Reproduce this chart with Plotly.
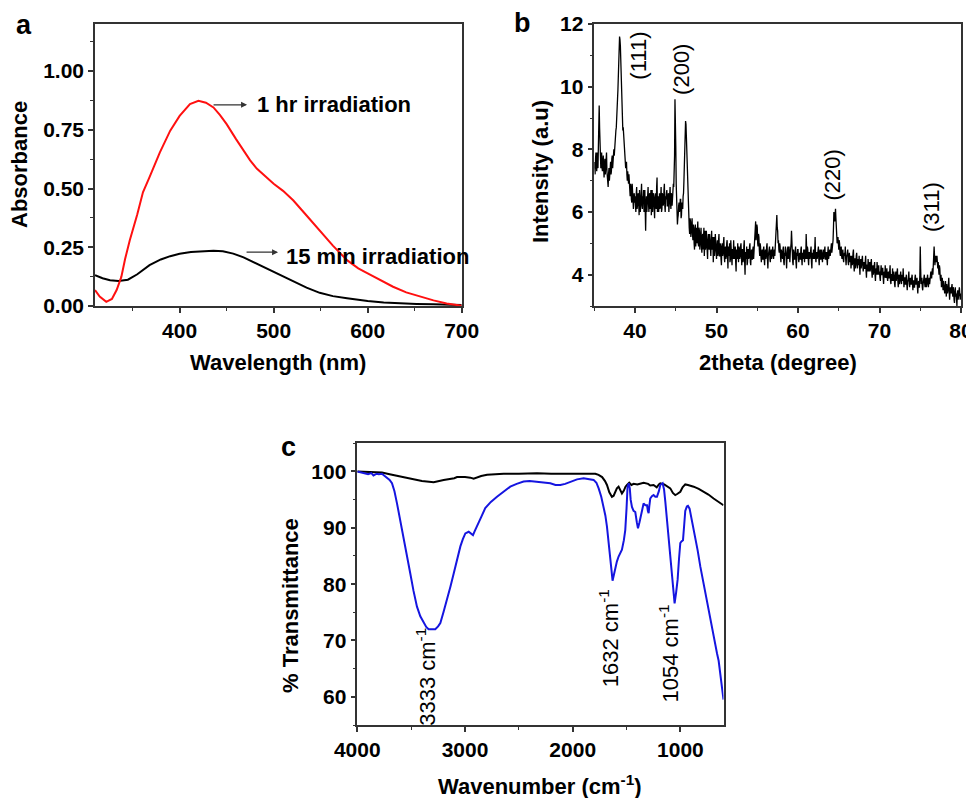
import plotly.graph_objects as go

# ---------------- Panel a: UV-Vis ----------------
uv_1hr_wl = [310, 315, 322, 328, 333, 338, 342, 347, 355, 361, 368, 379, 390, 400, 411, 420, 428, 436,
             443, 450, 460, 468, 475, 482, 490, 500, 510, 521, 535, 549, 563, 578, 590, 600, 614, 627,
             641, 656, 670, 684, 692, 700]
uv_1hr_abs = [0.068, 0.040, 0.018, 0.030, 0.068, 0.124, 0.20, 0.28, 0.39, 0.484, 0.548, 0.654, 0.746,
              0.809, 0.859, 0.873, 0.865, 0.845, 0.812, 0.774, 0.71, 0.661, 0.62, 0.585, 0.555, 0.52,
              0.49, 0.449, 0.385, 0.322, 0.257, 0.195, 0.160, 0.139, 0.108, 0.082, 0.058, 0.039, 0.024,
              0.011, 0.005, 0.001]
uv_15min_wl = [310, 318, 326, 335, 345, 355, 368, 380, 390, 400, 412, 424, 436, 446, 457, 468, 478, 490,
               500, 510, 521, 535, 549, 563, 578, 590, 600, 617, 635, 652, 670, 685, 700]
uv_15min_abs = [0.131, 0.118, 0.110, 0.106, 0.112, 0.135, 0.174, 0.198, 0.212, 0.222, 0.230, 0.234,
                0.235, 0.233, 0.223, 0.207, 0.188, 0.163, 0.145, 0.124, 0.103, 0.078, 0.056, 0.042,
                0.033, 0.025, 0.021, 0.015, 0.011, 0.009, 0.007, 0.005, 0.004]

# ---------------- Panel b: XRD ----------------
# readings at 35.0, 35.1, ... 80.0
xrd_start, xrd_step = 35.0, 0.1
xrd_intensity = [
    7.6, 7.2, 7.9, 7.3, 7.8, 8.3, 9.4, 8.0, 7.4, 7.9,
    7.3, 7.8, 7.1, 7.7, 7.4, 7.9, 7.0, 6.8, 7.4, 7.2,
    7.6, 7.3, 7.8, 7.6, 8.0, 8.1, 8.4, 8.7, 9.3, 9.9,
    10.8, 11.6, 11.3, 10.2, 9.1, 8.6, 8.4, 8.0, 7.7, 7.5,
    7.2, 7.3, 6.9, 7.0, 6.5, 6.8, 6.3, 6.7, 6.1, 6.6,
    6.5, 6.0, 6.8, 6.2, 6.6, 5.9, 6.5, 6.3, 6.9, 6.1,
    6.4, 6.0, 6.7, 5.4, 6.5, 6.2, 6.8, 6.0, 6.6, 6.3,
    5.9, 6.7, 6.2, 6.5, 5.8, 6.6, 6.1, 7.1, 6.3, 6.0,
    6.6, 6.2, 6.8, 6.1, 6.5, 6.3, 6.9, 6.0, 6.4, 6.7,
    6.2, 6.6, 6.3, 6.8, 6.1, 6.5, 6.7, 6.9, 7.1, 9.6,
    8.1, 6.2, 5.6, 5.9, 6.3, 6.1, 6.4, 5.9, 6.2, 6.5,
    7.0, 8.2, 8.9, 8.4, 7.3, 6.3, 5.9, 5.3, 5.7, 5.4,
    5.8, 5.1, 5.5, 4.8, 5.6, 5.2, 5.0, 5.7, 4.9, 5.4,
    5.0, 5.5, 4.7, 5.3, 5.1, 4.6, 5.4, 4.9, 5.2, 4.5,
    5.3, 4.8, 5.1, 4.6, 5.4, 4.9, 4.4, 5.2, 4.8, 5.0,
    4.5, 5.1, 4.7, 5.3, 4.6, 4.9, 4.3, 5.0, 4.7, 5.2,
    4.4, 4.9, 4.6, 5.1, 4.2, 4.8, 5.0, 4.5, 4.9, 4.3,
    4.8, 5.1, 4.5, 4.9, 4.1, 4.7, 5.0, 4.4, 4.8, 4.6,
    5.0, 4.3, 4.8, 4.5, 5.1, 4.0, 4.7, 4.9, 4.4, 4.8,
    4.6, 5.0, 4.3, 4.8, 4.5, 4.9, 4.7, 5.2, 5.7, 5.3,
    5.5, 4.9, 5.2, 4.6, 4.9, 4.4, 4.8, 4.5, 4.9, 4.3,
    4.8, 4.6, 5.0, 4.2, 4.7, 4.9, 4.4, 4.8, 4.6, 4.9,
    4.5, 4.8, 5.0, 5.3, 5.9, 5.4, 5.1, 4.7, 4.9, 4.4,
    4.7, 4.5, 4.9, 4.3, 4.6, 4.8, 4.2, 4.7, 4.5, 4.9,
    4.4, 4.8, 5.4, 4.6, 4.3, 4.7, 4.5, 4.9, 4.2, 4.6,
    4.8, 4.4, 4.7, 4.5, 4.9, 4.3, 4.6, 4.8, 4.4, 4.7,
    5.3, 4.5, 4.8, 4.3, 4.7, 4.6, 4.9, 4.2, 4.6, 4.8,
    4.5, 5.2, 4.4, 4.7, 4.6, 4.9, 4.3, 4.8, 4.5, 4.7,
    4.4, 4.8, 4.6, 4.9, 4.5, 4.7, 4.3, 4.9, 4.6, 4.8,
    4.7, 5.0, 4.8, 5.1, 6.0, 5.7, 6.1, 5.6, 5.0, 5.2,
    4.8, 5.0, 4.6, 4.9, 4.5, 4.8, 4.4, 4.7, 4.9, 4.3,
    4.6, 4.8, 4.3, 4.7, 4.5, 4.2, 4.6, 4.4, 4.8, 4.1,
    4.5, 4.3, 4.7, 4.2, 4.4, 4.6, 4.0, 4.5, 4.3, 4.6,
    4.1, 4.4, 4.2, 4.6, 3.9, 4.3, 4.5, 4.1, 4.4, 4.2,
    4.5, 3.9, 4.3, 4.1, 4.4, 3.8, 4.2, 4.4, 4.0, 4.3,
    4.1, 3.8, 4.3, 4.0, 4.2, 3.7, 4.1, 4.3, 3.9, 4.2,
    3.8, 4.1, 3.9, 4.3, 3.7, 4.0, 4.2, 3.8, 4.0, 3.6,
    4.1, 3.9, 4.2, 3.6, 4.0, 3.8, 4.1, 3.7, 3.9, 4.2,
    3.6, 3.9, 3.7, 4.0, 3.5, 3.8, 4.1, 3.6, 3.9, 3.7,
    4.0, 3.5, 3.8, 3.6, 4.0, 3.7, 3.9, 3.4, 3.8, 3.6,
    4.9, 3.7, 3.9, 3.5, 3.8, 4.0, 3.6, 3.9, 3.7, 4.0,
    3.6, 3.9, 3.8, 4.1, 3.9, 4.2, 4.4, 4.9, 4.3, 4.6,
    4.5, 4.3, 4.4, 4.0, 4.2, 3.8, 3.6, 3.9, 3.5, 3.7,
    3.4, 3.8, 3.3, 3.6, 3.5, 3.9, 3.2, 3.6, 3.4, 3.7,
    3.3, 3.5, 3.1, 3.6, 3.4, 3.0, 3.5, 3.3, 3.6, 3.2,
    3.4,
]
# readings at the half steps 35.05, 35.15, ... 79.95
xrd_intensity_mid = [
    7.3, 7.7, 7.5, 7.9, 7.4, 8.8, 8.7, 7.6, 7.8, 7.4,
    7.6, 7.4, 7.5, 7.2, 7.6, 7.3, 6.9, 7.2, 7.0, 7.5,
    7.2, 7.7, 7.4, 7.9, 7.8, 8.2, 8.6, 8.9, 9.6, 10.3,
    11.2, 11.5, 10.7, 9.6, 8.7, 8.7, 8.1, 7.8, 7.4, 7.6,
    7.0, 6.9, 7.2, 6.6, 6.9, 6.4, 6.9, 6.2, 6.5, 6.3,
    6.2, 6.6, 6.1, 6.5, 6.3, 6.7, 6.0, 6.6, 6.2, 6.5,
    6.7, 6.3, 5.9, 6.2, 6.0, 6.6, 6.3, 6.5, 6.1, 6.7,
    6.4, 6.0, 6.6, 6.1, 6.4, 6.2, 6.8, 6.0, 6.5, 6.3,
    6.1, 6.5, 6.0, 6.6, 6.2, 6.7, 6.2, 6.5, 6.6, 6.2,
    6.5, 6.0, 6.6, 6.3, 6.6, 6.2, 6.5, 6.8, 7.8, 9.2,
    6.9, 5.9, 5.8, 6.2, 6.0, 6.4, 5.8, 6.3, 6.1, 6.6,
    7.5, 8.7, 8.8, 7.9, 6.8, 6.0, 5.5, 5.8, 5.2, 5.6,
    5.3, 5.6, 5.0, 5.4, 4.9, 5.5, 5.3, 5.0, 5.5, 4.8,
    5.3, 4.9, 5.2, 4.8, 5.5, 5.0, 4.8, 5.4, 4.7, 5.1,
    4.9, 5.3, 4.7, 5.1, 4.8, 5.2, 4.9, 4.6, 5.3, 4.7,
    4.9, 4.6, 5.1, 4.6, 5.0, 4.5, 4.9, 4.6, 5.0, 4.6,
    4.8, 4.5, 5.0, 4.6, 4.9, 4.6, 4.4, 5.1, 4.5, 4.8,
    4.5, 4.7, 4.9, 4.4, 4.8, 4.5, 4.6, 4.9, 4.5, 4.9,
    4.6, 4.8, 4.4, 4.9, 4.4, 4.7, 4.5, 4.3, 4.8, 4.5,
    4.9, 4.4, 4.7, 4.5, 4.8, 4.5, 5.0, 5.4, 5.1, 5.6,
    5.0, 5.3, 4.8, 5.0, 4.6, 4.7, 4.5, 4.8, 4.5, 4.7,
    4.5, 4.9, 4.5, 4.6, 4.9, 4.5, 4.7, 4.5, 4.8, 4.6,
    4.7, 4.6, 5.2, 5.6, 5.5, 5.0, 4.8, 5.0, 4.6, 4.8,
    4.5, 4.8, 4.4, 4.7, 4.9, 4.5, 4.6, 4.9, 4.6, 4.4,
    4.7, 5.0, 4.8, 4.4, 4.8, 4.5, 4.7, 4.4, 4.7, 4.8,
    4.5, 4.6, 4.5, 4.8, 4.5, 4.7, 4.5, 4.6, 4.8, 4.5,
    4.7, 4.9, 4.5, 4.7, 4.5, 4.8, 4.4, 4.7, 4.5, 4.6,
    4.8, 4.6, 4.7, 4.5, 4.8, 4.5, 4.7, 4.5, 4.8, 4.5,
    4.7, 4.5, 4.8, 4.5, 4.7, 4.5, 4.7, 4.5, 4.8, 4.6,
    4.9, 4.7, 5.0, 5.5, 5.8, 5.9, 5.8, 5.2, 5.1, 4.9,
    5.1, 4.7, 4.8, 4.6, 4.7, 4.5, 4.6, 4.6, 4.5, 4.6,
    4.7, 4.4, 4.6, 4.4, 4.6, 4.5, 4.3, 4.7, 4.3, 4.5,
    4.2, 4.6, 4.4, 4.5, 4.3, 4.2, 4.4, 4.2, 4.5, 4.3,
    4.3, 4.2, 4.4, 4.1, 4.3, 4.1, 4.3, 4.2, 4.1, 4.4,
    4.1, 4.2, 4.0, 4.3, 4.0, 4.1, 4.0, 4.2, 4.2, 4.0,
    3.9, 4.1, 4.0, 4.2, 3.9, 4.0, 3.9, 4.0, 4.1, 3.9,
    4.0, 3.9, 4.1, 3.8, 4.0, 3.8, 3.9, 4.1, 3.7, 3.9,
    3.8, 4.0, 3.8, 3.9, 3.7, 4.0, 3.8, 4.0, 3.8, 3.8,
    3.9, 3.7, 3.9, 3.7, 3.8, 3.9, 3.7, 3.8, 3.7, 3.9,
    3.7, 3.8, 3.6, 3.9, 3.7, 3.8, 3.6, 3.7, 3.6, 4.0,
    4.2, 3.8, 3.6, 3.7, 3.9, 3.7, 3.8, 3.6, 3.9, 3.7,
    3.8, 3.7, 4.0, 3.9, 4.1, 4.0, 4.6, 4.6, 4.5, 4.4,
    4.6, 4.2, 4.1, 4.3, 3.9, 4.0, 3.8, 3.7, 3.8, 3.5,
    3.6, 3.5, 3.7, 3.4, 3.7, 3.5, 3.4, 3.5, 3.6, 3.4,
    3.6, 3.2, 3.4, 3.3, 3.2, 3.4, 3.2, 3.5, 3.4, 3.3,
]
xrd_2theta, xrd_values = [], []
for i, v in enumerate(xrd_intensity):
    xrd_2theta.append(round(xrd_start + i * xrd_step, 2))
    xrd_values.append(v)
    if i < len(xrd_intensity_mid):
        xrd_2theta.append(round(xrd_start + (i + 0.5) * xrd_step, 2))
        xrd_values.append(xrd_intensity_mid[i])

xrd_labels = ["(111)", "(200)", "(220)", "(311)"]
xrd_label_x = [40.4, 45.7, 64.2, 76.4]
xrd_label_y = [11.0, 10.55, 7.17, 6.15]

# ---------------- Panel c: FTIR ----------------
ftir_blue_wn = [4000, 3950, 3900, 3870, 3850, 3820, 3800, 3771, 3750, 3724, 3700, 3678, 3655, 3631, 3600,
                3570, 3540, 3508, 3478, 3446, 3415, 3384, 3360, 3338, 3310, 3276, 3250, 3229, 3200, 3167,
                3135, 3105, 3075, 3043, 3020, 2997, 2966, 2945, 2926, 2910, 2889, 2850, 2812, 2760, 2703,
                2640, 2580, 2520, 2456, 2400, 2332, 2270, 2208, 2160, 2115, 2070, 2022, 1960, 1899, 1850,
                1806, 1780, 1759, 1735, 1713, 1697, 1682, 1665, 1651, 1640, 1630, 1618, 1605, 1590, 1574,
                1560, 1543, 1525, 1512, 1500, 1491, 1480, 1470, 1462, 1450, 1435, 1419, 1405, 1394, 1380,
                1366, 1354, 1342, 1325, 1310, 1302, 1295, 1288, 1280, 1265, 1249, 1233, 1218, 1200, 1187,
                1165, 1152, 1140, 1125, 1109, 1094, 1078, 1066, 1054, 1040, 1026, 1013, 1001, 990, 976,
                965, 955, 940, 930, 915, 900, 870, 840, 815, 790, 765, 745, 722, 700, 680, 660, 645, 625,
                610, 600]
ftir_blue_t = [100.0, 99.8, 99.5, 99.7, 99.3, 99.6, 99.5, 99.6, 99.3, 98.8, 98.5, 97.9, 96.5, 94.3, 91.3,
               88.4, 85.1, 81.9, 78.8, 76.0, 74.3, 73.1, 72.4, 72.0, 72.0, 72.0, 72.5, 73.1, 75.0, 77.2,
               79.6, 81.9, 84.3, 86.7, 88.0, 89.0, 89.3, 89.0, 88.7, 89.4, 90.2, 91.9, 93.5, 94.6, 95.5,
               96.5, 97.3, 97.8, 98.2, 98.3, 98.2, 98.1, 97.9, 97.6, 97.6, 97.8, 98.2, 98.6, 98.8, 98.7,
               98.5, 98.0, 97.0, 95.5, 93.7, 92.2, 90.2, 87.5, 84.9, 82.5, 80.6, 81.8, 82.8, 84.0, 84.9,
               85.5, 86.1, 87.8, 89.6, 93.5, 97.2, 97.9, 97.0, 95.0, 93.7, 93.0, 92.8, 91.0, 89.9, 91.0,
               92.3, 93.5, 94.3, 94.0, 94.0, 93.0, 92.6, 94.0, 95.2, 95.6, 95.8, 95.5, 95.5, 96.5, 97.6,
               97.9, 96.8, 94.6, 91.5, 87.8, 84.2, 80.8, 78.2, 76.6, 78.5, 80.8, 84.5, 87.3, 87.6, 87.8,
               90.5, 93.0, 93.8, 93.9, 93.4, 92.0, 89.0, 86.0, 83.1, 80.5, 78.0, 76.0, 73.7, 71.5, 69.5,
               67.7, 66.4, 63.5, 61.2, 59.5]
ftir_black_wn = [4000, 3900, 3800, 3771, 3700, 3600, 3500, 3400, 3291, 3250, 3198, 3100, 3074, 3000, 2950,
                 2920, 2890, 2850, 2795, 2700, 2641, 2500, 2332, 2200, 2022, 1900, 1790, 1760, 1727, 1700,
                 1682, 1660, 1636, 1620, 1605, 1590, 1574, 1560, 1543, 1525, 1510, 1496, 1475, 1455, 1434,
                 1400, 1370, 1342, 1300, 1280, 1249, 1220, 1200, 1187, 1150, 1120, 1094, 1070, 1048, 1030,
                 1001, 980, 955, 930, 900, 877, 830, 785, 740, 692, 650, 600]
ftir_black_t = [100.0, 99.9, 99.8, 99.8, 99.5, 99.1, 98.7, 98.3, 98.1, 98.3, 98.5, 98.8, 99.0, 99.0, 98.9,
                98.7, 98.9, 99.2, 99.4, 99.5, 99.6, 99.6, 99.7, 99.6, 99.6, 99.6, 99.6, 99.4, 99.0, 98.3,
                97.6, 96.3, 95.5, 95.7, 96.4, 97.0, 97.3, 96.7, 96.1, 96.6, 97.3, 97.6, 98.0, 97.6, 97.8,
                97.7, 97.9, 98.0, 97.8, 97.5, 97.6, 97.2, 97.7, 97.9, 97.7, 97.3, 97.0, 96.2, 95.8, 96.0,
                96.4, 97.2, 97.7, 97.6, 97.5, 97.3, 96.9, 96.4, 95.9, 95.2, 94.7, 94.0]
ftir_labels = ["3333 cm<sup>-1</sup>", "1632 cm<sup>-1</sup>", "1054 cm<sup>-1</sup>"]
ftir_label_x = [3365, 1663, 1106]
ftir_label_y = [63.5, 70.4, 67.7]

# ---------------- Figure ----------------
OFF = 8                 # page body margin of the written html
W, H = 974 - OFF, 798 - OFF
FONT = "Arial, Liberation Sans, Helvetica, sans-serif"
AX = "#333333"

fig = go.Figure()
fig.add_trace(go.Scatter(x=uv_15min_wl, y=uv_15min_abs, mode="lines", line=dict(color="black", width=2),
                         xaxis="x", yaxis="y", showlegend=False))
fig.add_trace(go.Scatter(x=uv_1hr_wl, y=uv_1hr_abs, mode="lines", line=dict(color="#ff1010", width=2),
                         xaxis="x", yaxis="y", showlegend=False))
fig.add_trace(go.Scatter(x=xrd_2theta, y=xrd_values, mode="lines", line=dict(color="black", width=1.3),
                         xaxis="x2", yaxis="y2", showlegend=False))
fig.add_trace(go.Scatter(x=ftir_black_wn, y=ftir_black_t, mode="lines", line=dict(color="black", width=2),
                         xaxis="x3", yaxis="y3", showlegend=False))
fig.add_trace(go.Scatter(x=ftir_blue_wn, y=ftir_blue_t, mode="lines", line=dict(color="#1515e0", width=2),
                         xaxis="x3", yaxis="y3", showlegend=False))


def px2paper(px, py):
    return (px - OFF) / W, 1 - (py - OFF) / H


def axis_style(**kw):
    d = dict(showline=True, linecolor=AX, linewidth=1.5, mirror=True, ticks="outside", ticklen=5,
             tickwidth=1.5, tickcolor=AX, showgrid=False, zeroline=False, automargin=False,
             tickfont=dict(family=FONT, size=21, color="black", weight="bold"))
    d.update(kw)
    return d


def minor_style(dt):
    return dict(dtick=dt, ticks="outside", ticklen=3, tickwidth=1.2, tickcolor=AX, showgrid=False)


xa0, ya1 = px2paper(95, 24)
xa1, ya0 = px2paper(461.7, 306)
xb0, _ = px2paper(594.3, 24)
xb1, _ = px2paper(961, 24)
xc0, yc1 = px2paper(357.3, 443.3)
xc1, yc0 = px2paper(723.5, 725)

fig.update_layout(
    width=W, height=H, margin=dict(l=0, r=0, t=0, b=0),
    paper_bgcolor="white", plot_bgcolor="white",
    xaxis=axis_style(domain=[xa0, xa1], anchor="y", range=[310, 700], tickvals=[400, 500, 600, 700],
                     minor=minor_style(50)),
    yaxis=axis_style(domain=[ya0, ya1], anchor="x", range=[0, 1.2], tickvals=[0, 0.25, 0.5, 0.75, 1.0],
                     tickformat=".2f", minor=minor_style(0.125)),
    xaxis2=axis_style(domain=[xb0, xb1], anchor="y2", range=[35, 80], tickvals=[40, 50, 60, 70, 80],
                      minor=minor_style(5)),
    yaxis2=axis_style(domain=[ya0, ya1], anchor="x2", range=[3, 12], tickvals=[4, 6, 8, 10, 12],
                      minor=minor_style(1)),
    xaxis3=axis_style(domain=[xc0, xc1], anchor="y3", range=[4000, 600], tickvals=[4000, 3000, 2000, 1000],
                      minor=minor_style(500)),
    yaxis3=axis_style(domain=[yc0, yc1], anchor="x3", range=[55, 105], tickvals=[60, 70, 80, 90, 100],
                      minor=minor_style(5)),
)

ann = []
bold = dict(family=FONT, size=22, color="black", weight="bold")
reg = dict(family=FONT, size=22, color="black")
letter = dict(family=FONT, size=27, color="black", weight="bold")


def paper_text(px, py, text, font, angle=0):
    x, y = px2paper(px, py)
    ann.append(dict(x=x, y=y, xref="paper", yref="paper", text=text, showarrow=False, font=font,
                    textangle=angle, xanchor="center", yanchor="middle"))


# panel letters
paper_text(24, 25, "a", letter)
paper_text(522, 23, "b", letter)
paper_text(288, 447, "c", letter)

# axis titles
paper_text(20, 165, "Absorbance", bold, -90)
paper_text(277.5, 363, "Wavelength (nm)", bold)
paper_text(540, 172, "Intensity (a.u)", bold, -90)
paper_text(777.5, 363, "2theta (degree)", bold)
paper_text(290, 606, "% Transmittance", bold, -90)
paper_text(540, 785, "Wavenumber (cm<sup>-1</sup>)", bold)

# panel a arrows + labels
for (hx, tx, yy) in [(471.7, 434.5, 0.856), (504.7, 469.6, 0.229)]:
    ann.append(dict(x=hx, y=yy, ax=tx, ay=yy, xref="x", yref="y", axref="x", ayref="y", text="",
                    showarrow=True, arrowhead=2, arrowsize=1, arrowwidth=1.2, arrowcolor="#333333"))
ann.append(dict(x=480, y=0.856, xref="x", yref="y", text="1 hr irradiation", showarrow=False, font=bold,
                xanchor="left", yanchor="middle"))
ann.append(dict(x=511, y=0.212, xref="x", yref="y", text="15 min irradiation", showarrow=False, font=bold,
                xanchor="left", yanchor="middle"))

# panel b labels
for t, x, y in zip(xrd_labels, xrd_label_x, xrd_label_y):
    ann.append(dict(x=x, y=y, xref="x2", yref="y2", text=t, showarrow=False, font=reg, textangle=-90,
                    xanchor="center", yanchor="middle"))

# panel c labels
for t, x, y in zip(ftir_labels, ftir_label_x, ftir_label_y):
    ann.append(dict(x=x, y=y, xref="x3", yref="y3", text=t, showarrow=False, font=reg, textangle=-90,
                    xanchor="center", yanchor="middle"))

fig.update_layout(annotations=ann)
fig.write_html("out.html")
